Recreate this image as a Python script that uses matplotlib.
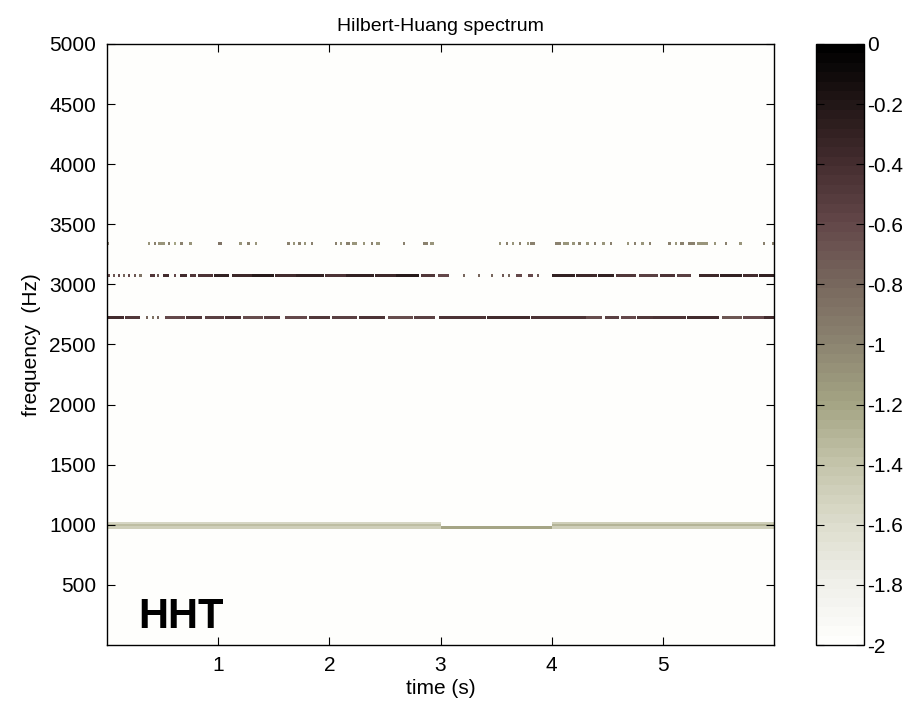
import numpy as np
import matplotlib
matplotlib.use('Agg')
import matplotlib.pyplot as plt
from matplotlib.colors import LinearSegmentedColormap

plt.rcParams['font.family'] = ['Liberation Sans', 'DejaVu Sans']
plt.rcParams['axes.unicode_minus'] = False

# colour scale (value -> colour)
cbar_values = [-2.0, -1.8, -1.6, -1.4, -1.2, -1.0, -0.8, -0.6, -0.4, -0.2, 0.0]
cbar_colors = ['#fefefc', '#efefe9', '#dcdccc', '#c4c4aa', '#a4a484', '#8c8470',
               '#78685e', '#64484a', '#462e30', '#241818', '#000000']
cbar_ticks = [0, -0.2, -0.4, -0.6, -0.8, -1, -1.2, -1.4, -1.6, -1.8, -2]
cbar_ticklabels = ['0', '-0.2', '-0.4', '-0.6', '-0.8', '-1', '-1.2', '-1.4', '-1.6', '-1.8', '-2']

x_ticks = [1, 2, 3, 4, 5]
y_ticks = [500, 1000, 1500, 2000, 2500, 3000, 3500, 4000, 4500, 5000]

# grid of the spectrum: time (s) and frequency (Hz)
t_max = 6.0
f_max = 5000
dt = 0.01
df = 5

# bands: (f_low, f_high, [(t_start, t_end, level), ...])
band_3330 = (3325, 3345, [
    (0.00, 0.02, -1.0), (0.37, 0.39, -1.1), (0.42, 0.44, -1.0), (0.46, 0.52, -1.1),
    (0.55, 0.57, -1.0), (0.60, 0.62, -1.2), (0.66, 0.68, -1.0), (0.74, 0.76, -1.1),
    (1.00, 1.03, -0.9), (1.19, 1.21, -1.1), (1.26, 1.28, -1.0), (1.33, 1.35, -1.1),
    (1.62, 1.64, -1.0), (1.67, 1.69, -1.1), (1.72, 1.74, -1.0), (1.77, 1.79, -1.1),
    (1.83, 1.85, -1.0), (2.05, 2.07, -1.0), (2.09, 2.11, -1.1), (2.15, 2.18, -1.0),
    (2.20, 2.25, -1.1), (2.30, 2.32, -1.1), (2.37, 2.39, -1.0), (2.42, 2.45, -1.1),
    (2.66, 2.68, -1.0), (2.84, 2.88, -1.0), (2.90, 2.94, -1.1), (3.52, 3.54, -1.1),
    (3.58, 3.60, -1.0), (3.64, 3.66, -1.1), (3.70, 3.72, -1.0), (3.77, 3.79, -1.1),
    (3.80, 3.84, -1.0), (4.02, 4.08, -1.0), (4.10, 4.15, -1.1), (4.18, 4.20, -1.1),
    (4.23, 4.26, -1.0), (4.30, 4.33, -1.1), (4.37, 4.39, -1.0), (4.45, 4.47, -1.1),
    (4.52, 4.54, -1.0), (4.67, 4.69, -1.1), (4.73, 4.75, -1.0), (4.80, 4.82, -1.1),
    (4.87, 4.89, -1.0), (5.04, 5.07, -1.0), (5.10, 5.12, -1.1), (5.15, 5.18, -1.0),
    (5.22, 5.28, -1.0), (5.30, 5.40, -1.1), (5.45, 5.47, -1.1), (5.55, 5.57, -1.0),
    (5.68, 5.70, -1.1), (5.89, 5.91, -1.0), (5.97, 6.00, -1.0),
])

band_3070 = (3060, 3085, [
    (0.00, 0.03, -0.6), (0.05, 0.07, -0.7), (0.10, 0.12, -0.6), (0.14, 0.16, -0.8),
    (0.19, 0.21, -0.6), (0.24, 0.26, -0.7), (0.29, 0.31, -0.9), (0.39, 0.43, -0.5),
    (0.45, 0.47, -0.7), (0.50, 0.56, -0.4), (0.60, 0.62, -0.6), (0.66, 0.72, -0.4),
    (0.75, 0.80, -0.5), (0.82, 0.95, -0.45), (0.96, 1.10, -0.30), (1.12, 1.30, -0.35),
    (1.30, 1.50, -0.25), (1.51, 1.70, -0.40), (1.70, 1.95, -0.30), (1.96, 2.15, -0.45),
    (2.15, 2.40, -0.30), (2.41, 2.60, -0.35), (2.60, 2.80, -0.25), (2.82, 2.95, -0.50),
    (2.97, 3.07, -0.60), (3.20, 3.22, -0.8), (3.33, 3.35, -0.8), (3.45, 3.47, -0.8),
    (3.55, 3.57, -0.7), (3.60, 3.62, -0.8), (3.67, 3.73, -0.6), (3.78, 3.83, -0.6),
    (3.86, 3.88, -0.7), (4.00, 4.20, -0.30), (4.21, 4.40, -0.35), (4.41, 4.55, -0.30),
    (4.57, 4.75, -0.50), (4.78, 4.95, -0.55), (4.97, 5.10, -0.45), (5.12, 5.25, -0.55),
    (5.32, 5.50, -0.35), (5.51, 5.70, -0.30), (5.71, 5.85, -0.40), (5.86, 6.00, -0.30),
])

band_2720 = (2710, 2730, [
    (0.00, 0.15, -0.40), (0.16, 0.30, -0.50), (0.35, 0.37, -0.8), (0.40, 0.42, -0.9),
    (0.45, 0.47, -0.8), (0.52, 0.70, -0.60), (0.71, 0.85, -0.50), (0.88, 1.05, -0.55),
    (1.06, 1.20, -0.45), (1.22, 1.40, -0.65), (1.41, 1.55, -0.55), (1.60, 1.80, -0.60),
    (1.81, 2.00, -0.50), (2.02, 2.25, -0.55), (2.26, 2.50, -0.45), (2.52, 2.75, -0.65),
    (2.76, 2.95, -0.55), (2.98, 3.40, -0.45), (3.41, 3.80, -0.40), (3.81, 4.30, -0.45),
    (4.30, 4.45, -0.65), (4.47, 4.60, -0.55), (4.62, 4.75, -0.60), (4.76, 4.90, -0.50),
    (4.90, 5.20, -0.45), (5.21, 5.50, -0.40), (5.52, 5.70, -0.70), (5.71, 5.90, -0.60),
    (5.90, 6.00, -0.40),
])

band_1000_upper = (1005, 1025, [(0.00, 3.00, -1.55), (4.00, 6.00, -1.50)])
band_1000_mid = (985, 1005, [(0.00, 3.00, -1.35), (4.00, 6.00, -1.30)])
band_1000_lower = (965, 985, [(0.00, 3.00, -1.50), (3.00, 4.00, -1.20), (4.00, 6.00, -1.50)])

bands = [band_3330, band_3070, band_2720, band_1000_upper, band_1000_mid, band_1000_lower]

# build the spectrum image from the bands
nt = int(round(t_max / dt))
nf = int(round(f_max / df))
Z = np.full((nf, nt), -2.0)
for f_lo, f_hi, segs in bands:
    r0, r1 = int(f_lo // df), int(f_hi // df)
    for t0, t1, lev in segs:
        c0, c1 = int(round(t0 / dt)), int(round(t1 / dt))
        Z[r0:r1, c0:c1] = lev

cmap = LinearSegmentedColormap.from_list(
    'hht', [((v + 2) / 2, c) for v, c in zip(cbar_values, cbar_colors)], N=64)

fig = plt.figure(figsize=(9.18, 7.05), dpi=100)
ax = fig.add_axes([0.1166, 0.0851, 0.7266, 0.8525])
im = ax.imshow(Z, origin='lower', aspect='auto', extent=[0, t_max, 0, f_max],
               cmap=cmap, vmin=-2, vmax=0, interpolation='nearest')

ax.set_xlim(0, t_max)
ax.set_ylim(0, f_max)
ax.set_xticks(x_ticks)
ax.set_yticks(y_ticks)
ax.tick_params(direction='in', top=True, right=True, length=6, width=0.8,
               labelsize=15, pad=8)
for s in ax.spines.values():
    s.set_linewidth(1.0)

ax.set_title('Hilbert-Huang spectrum', fontsize=14, pad=9)
ax.set_xlabel('time (s)', fontsize=15, labelpad=3)
ax.set_ylabel('frequency  (Hz)', fontsize=15, labelpad=6)
ax.text(0.28, 140, 'HHT', fontsize=30, fontweight='bold', ha='left', va='baseline')

cax = fig.add_axes([0.889, 0.0851, 0.0523, 0.8525])
cb = fig.colorbar(im, cax=cax)
cb.set_ticks(cbar_ticks)
cb.set_ticklabels(cbar_ticklabels)
cax.tick_params(direction='in', left=True, right=True, length=6, width=0.8,
                labelsize=15, pad=2)
cb.outline.set_linewidth(1.0)

fig.savefig('out.png', dpi=100, facecolor='white')
